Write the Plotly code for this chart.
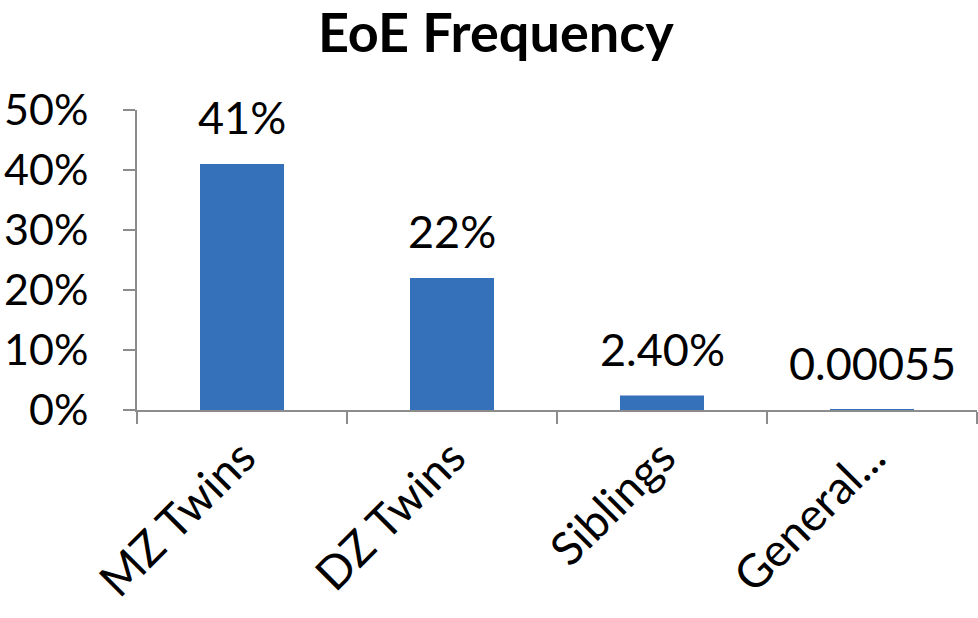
import plotly.graph_objects as go

categories = ["MZ Twins", "DZ Twins", "Siblings", "General..."]
values = [0.41, 0.22, 0.024, 0.00055]
value_labels = ["41%", "22%", "2.40%", "0.00055"]
y_ticks = [0, 0.1, 0.2, 0.3, 0.4, 0.5]
y_tick_labels = ["0%", "10%", "20%", "30%", "40%", "50%"]

FONT = "Lato"
AXIS_GRAY = "#8c8c8c"

fig = go.Figure()
fig.add_trace(go.Bar(
    x=categories,
    y=values,
    marker=dict(color="#3570bb", line=dict(width=0)),
    width=0.4,
    hoverinfo="skip",
))

for c, v, t in zip(categories, values, value_labels):
    fig.add_annotation(
        x=c, y=v, text=t, showarrow=False,
        yanchor="bottom", yshift=18,
        font=dict(family=FONT, size=45, color="black"),
    )

fig.update_layout(
    width=978, height=618,
    margin=dict(l=137, r=1, t=110, b=208, autoexpand=False),
    paper_bgcolor="white",
    plot_bgcolor="white",
    showlegend=False,
    title=dict(
        text="<b>EoE Frequency</b>",
        x=0.507, xanchor="center",
        y=0.946, yanchor="middle",
        font=dict(family=FONT, size=54, color="black"),
    ),
    xaxis=dict(
        automargin=False,
        showline=True, linecolor=AXIS_GRAY, linewidth=2,
        ticks="outside", tickson="boundaries", ticklen=12,
        tickcolor=AXIS_GRAY, tickwidth=2,
        tickangle=-45,
        tickfont=dict(family=FONT, size=46, color="black"),
        showgrid=False, zeroline=False,
    ),
    yaxis=dict(
        automargin=False,
        range=[0, 0.5],
        tickvals=y_ticks, ticktext=y_tick_labels,
        showline=True, linecolor=AXIS_GRAY, linewidth=2,
        ticks="outside", ticklen=12, tickcolor=AXIS_GRAY, tickwidth=2,
        ticklabelstandoff=26,
        tickfont=dict(family=FONT, size=43, color="black"),
        showgrid=False, zeroline=False,
    ),
)

fig.write_html(
    "out.html",
    config={"displayModeBar": False},
    post_script="document.body.style.margin='0';document.body.style.padding='0';",
)
